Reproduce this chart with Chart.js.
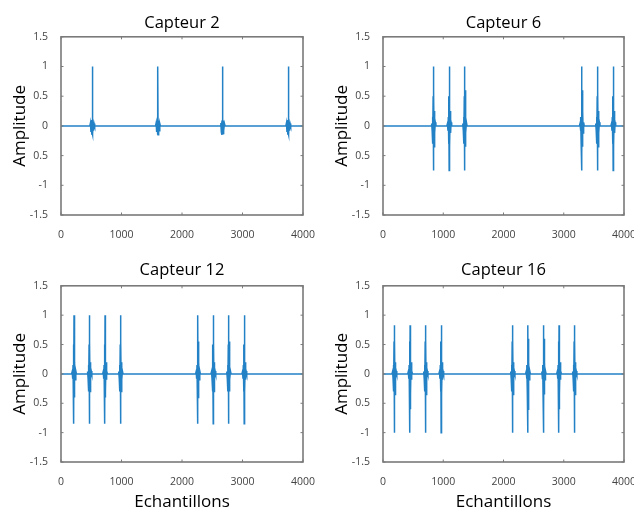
<!DOCTYPE html>
<html>
<head>
<meta charset="utf-8">
<script src="https://cdn.jsdelivr.net/npm/chart.js@4.4.1/dist/chart.umd.min.js"></script>
<style>
  html, body { margin: 0; padding: 0; background: #fff; overflow: hidden; }
  #page { position: relative; width: 634px; height: 511px; overflow: hidden; }
  .panel { position: absolute; }
</style>
</head>
<body>
<div id="page">
  <div class="panel" style="left:0;top:0;width:317px;height:250px"><canvas id="c2"></canvas></div>
  <div class="panel" style="left:317px;top:0;width:333px;height:250px"><canvas id="c6"></canvas></div>
  <div class="panel" style="left:0;top:250px;width:317px;height:261px"><canvas id="c12"></canvas></div>
  <div class="panel" style="left:317px;top:250px;width:333px;height:261px"><canvas id="c16"></canvas></div>
</div>
<script>
// axes
let xTicks = [0, 1000, 2000, 3000, 4000]
let yTicks = [-1.5, -1, -0.5, 0, 0.5, 1, 1.5]
let yTickLabels = ["-1.5", "-1", "0.5", "0", "0.5", "1", "1.5"]

// burst positions (samples)
let capteur2Bursts = [517, 1603, 2672, 3757]
let capteur6Bursts = [838, 1100, 1355, 3300, 3561, 3822]
let capteur12Bursts = [215, 470, 728, 985, 2264, 2518, 2771, 3030]
let capteur16Bursts = [189, 450, 706, 967, 2150, 2406, 2667, 2922, 3178]

// shape of one burst: sample offsets and amplitudes
let burstOffsets = [-40, -30, -22, -16, -11, -6, -2, 0, 2, 6, 11, 16, 22, 30, 40]
let capteur2Shape = [0, 0.05, -0.1, 0.08, -0.15, 0.1, -0.12, 1.0, -0.15, 0.09, -0.14, 0.07, -0.08, 0.04, 0]
let capteur6Shape = [0, 0.04, -0.08, 0.15, -0.3, 0.5, -0.75, 1.0, -0.5, 0.6, -0.35, 0.25, -0.12, 0.06, 0]
let capteur12Shape = [0, 0.04, -0.08, 0.15, -0.3, 0.5, -0.85, 1.0, -0.4, 0.55, -0.3, 0.2, -0.1, 0.05, 0]
let capteur16Shape = [0, 0.04, -0.08, 0.15, -0.3, 0.55, -1.0, 0.83, -0.6, 0.6, -0.35, 0.2, -0.1, 0.05, 0]

let lineColor = "#2381c6"
let fontFamily = "'Open Sans', sans-serif"

function buildPoints(bursts, shape) {
  let pts = [{x: 0, y: 0}]
  bursts.forEach(function(b) {
    burstOffsets.forEach(function(off, i) {
      pts.push({x: b + off, y: shape[i]})
    })
  })
  pts.push({x: 4000, y: 0})
  return pts
}

// box round the plot with small inward ticks, like the original
let framePlugin = {
  id: "frame",
  afterDraw(chart) {
    let ctx = chart.ctx
    let a = chart.chartArea
    let x = chart.scales.x
    let y = chart.scales.y
    ctx.save()
    ctx.strokeStyle = "#7a7a7a"
    ctx.lineWidth = 1
    ctx.beginPath()
    xTicks.forEach(function(v) {
      let px = x.getPixelForValue(v)
      ctx.moveTo(px, a.bottom); ctx.lineTo(px, a.bottom - 2.5)
      ctx.moveTo(px, a.top); ctx.lineTo(px, a.top + 2.5)
    })
    yTicks.forEach(function(v) {
      let py = y.getPixelForValue(v)
      ctx.moveTo(a.left, py); ctx.lineTo(a.left + 2.5, py)
      ctx.moveTo(a.right, py); ctx.lineTo(a.right - 2.5, py)
    })
    ctx.stroke()
    ctx.lineWidth = 1.6
    ctx.strokeRect(a.left, a.top, a.right - a.left, a.bottom - a.top)
    ctx.restore()
  }
}

function makeChart(id, title, points, opts) {
  return new Chart(document.getElementById(id), {
    type: "line",
    data: {
      datasets: [{
        data: points,
        borderColor: lineColor,
        borderWidth: 1.5,
        pointRadius: 0,
        tension: 0
      }]
    },
    options: {
      responsive: true,
      maintainAspectRatio: false,
      animation: false,
      layout: {padding: {left: 0, right: opts.padRight, top: 0, bottom: 0}},
      plugins: {
        legend: {display: false},
        tooltip: {enabled: false},
        title: {
          display: true,
          fullSize: false,
          text: title,
          color: "#000",
          font: {family: fontFamily, size: 16.5, weight: "normal"},
          padding: {top: opts.titleTop, bottom: opts.titleBottom}
        }
      },
      scales: {
        x: {
          type: "linear",
          min: 0,
          max: 4000,
          afterBuildTicks: function(scale) { scale.ticks = xTicks.map(v => ({value: v})) },
          ticks: {
            color: "#444",
            font: {family: fontFamily, size: 10.5},
            padding: 14,
            maxRotation: 0,
            callback: function(v) { return String(v) }
          },
          grid: {display: false, drawTicks: false},
          border: {display: false},
          title: {
            display: opts.xTitle,
            text: "Echantillons",
            color: "#000",
            font: {family: fontFamily, size: 17, lineHeight: 1},
            padding: {top: 0, bottom: 0}
          },
          afterFit: function(scale) {
            scale.height = opts.xHeight
            scale.paddingLeft = 0
            scale.paddingRight = 0
          }
        },
        y: {
          min: -1.5,
          max: 1.5,
          afterBuildTicks: function(scale) { scale.ticks = yTicks.map(v => ({value: v})) },
          ticks: {
            color: "#444",
            font: {family: fontFamily, size: 10.5},
            padding: 13,
            callback: function(v) { return yTickLabels[yTicks.indexOf(v)] }
          },
          grid: {display: false, drawTicks: false},
          border: {display: false},
          title: {
            display: true,
            text: "Amplitude",
            color: "#000",
            font: {family: fontFamily, size: 17},
            padding: {top: opts.yTitlePad, bottom: 0}
          },
          afterFit: function(scale) {
            scale.width = opts.yWidth
            scale.paddingTop = 0
            scale.paddingBottom = 0
          }
        }
      }
    },
    plugins: [framePlugin]
  })
}

makeChart("c2", "Capteur 2", buildPoints(capteur2Bursts, capteur2Shape),
  {padRight: 14, titleTop: 13, titleBottom: 4, xHeight: 35, xTitle: false, yWidth: 61, yTitlePad: 10})
makeChart("c6", "Capteur 6", buildPoints(capteur6Bursts, capteur6Shape),
  {padRight: 26, titleTop: 13, titleBottom: 4, xHeight: 35, xTitle: false, yWidth: 66, yTitlePad: 15})
makeChart("c12", "Capteur 12", buildPoints(capteur12Bursts, capteur12Shape),
  {padRight: 14, titleTop: 10, titleBottom: 6, xHeight: 49, xTitle: true, yWidth: 61, yTitlePad: 10})
makeChart("c16", "Capteur 16", buildPoints(capteur16Bursts, capteur16Shape),
  {padRight: 26, titleTop: 10, titleBottom: 6, xHeight: 49, xTitle: true, yWidth: 66, yTitlePad: 15})
</script>
</body>
</html>
